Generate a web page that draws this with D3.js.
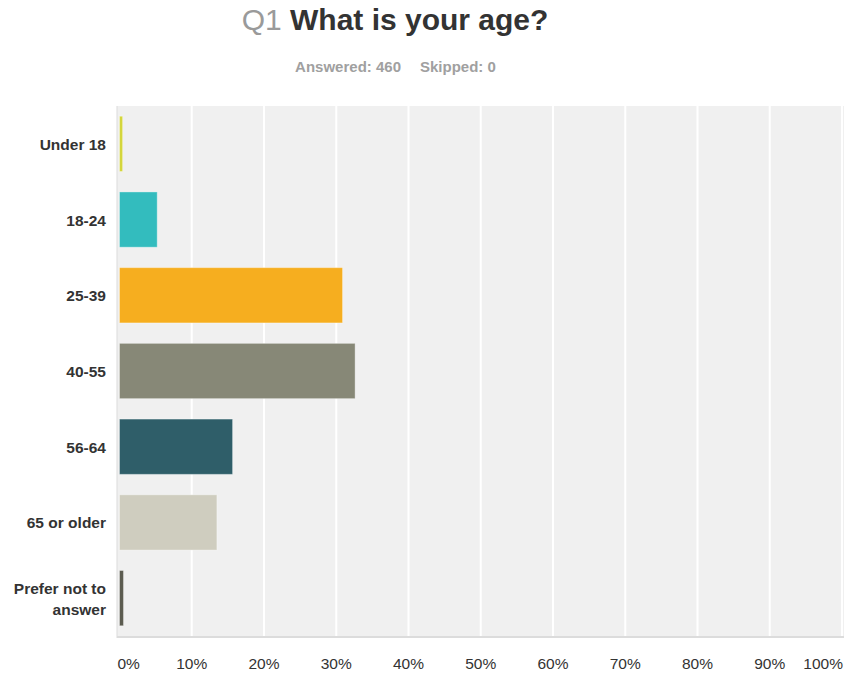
<!DOCTYPE html>
<html>
<head>
<meta charset="utf-8">
<script src="https://cdn.jsdelivr.net/npm/d3@7"></script>
<style>
  html, body { margin: 0; padding: 0; background: #fff; }
  svg { display: block; font-family: "Liberation Sans", Arial, Helvetica, sans-serif; }
</style>
</head>
<body>
<svg id="chart" width="844" height="675"></svg>
<script>
// Survey question Q1: age distribution of respondents (percent of answers)
const categories = ["Under 18", "18-24", "25-39", "40-55", "56-64", "65 or older", "Prefer not to answer"];
const percents   = [0.43, 5.22, 30.87, 32.61, 15.65, 13.48, 0.55];
const barColors  = ["#d4d63c", "#33bcbe", "#f6ae1f", "#878877", "#2f5e69", "#cfcdbf", "#5c5c50"];
const tickValues = [0, 10, 20, 30, 40, 50, 60, 70, 80, 90, 100];
const tickLabels = ["0%", "10%", "20%", "30%", "40%", "50%", "60%", "70%", "80%", "90%", "100%"];

const svg = d3.select("#chart");

const plot = { left: 119.5, right: 842, top: 106, bottom: 636 };

const x = d3.scaleLinear().domain([0, 100]).range([plot.left, plot.right]);
const y = d3.scaleBand().domain(categories).range([plot.top, plot.bottom]).paddingInner(0.27).paddingOuter(0.135);

// Title
const title = svg.append("text")
  .attr("x", 395).attr("y", 30)
  .attr("text-anchor", "middle")
  .style("font-size", "30px");
title.append("tspan").attr("fill", "#9a9a9a").text("Q1 ");
title.append("tspan").attr("fill", "#333333").attr("font-weight", "bold").text("What is your age?");

// Response counts
const sub = svg.append("g")
  .attr("fill", "#a0a0a0")
  .attr("font-weight", "bold")
  .style("font-size", "15px");
sub.append("text").attr("x", 401).attr("y", 72).attr("text-anchor", "end").text("Answered: 460");
sub.append("text").attr("x", 420).attr("y", 72).attr("text-anchor", "start").text("Skipped: 0");

// Plot background with a soft edge on the left and bottom
svg.append("rect")
  .attr("x", plot.left - 3).attr("y", plot.top)
  .attr("width", plot.right - plot.left + 5).attr("height", plot.bottom - plot.top + 2)
  .attr("fill", "#dcdcdc");
svg.append("rect")
  .attr("x", plot.left - 2).attr("y", plot.top)
  .attr("width", plot.right - plot.left + 4).attr("height", plot.bottom - plot.top)
  .attr("fill", "#f0f0f0");

// Vertical gridlines
svg.append("g")
  .selectAll("line")
  .data(tickValues.slice(1))
  .join("line")
  .attr("x1", d => x(d)).attr("x2", d => x(d))
  .attr("y1", plot.top).attr("y2", plot.bottom)
  .attr("stroke", "#ffffff")
  .attr("stroke-width", 2);

// Bars
svg.append("g")
  .selectAll("rect")
  .data(categories)
  .join("rect")
  .attr("x", x(0))
  .attr("y", d => y(d))
  .attr("width", (d, i) => Math.max(0, x(percents[i]) - x(0)))
  .attr("height", y.bandwidth())
  .attr("fill", (d, i) => barColors[i])
  .attr("stroke", "rgba(255,255,255,0.35)")
  .attr("stroke-width", 1);

// Category labels
const yLabels = svg.append("g")
  .selectAll("text")
  .data(categories)
  .join("text")
  .attr("text-anchor", "end")
  .attr("fill", "#333333")
  .attr("font-weight", "bold")
  .style("font-size", "15.5px");

yLabels.each(function (d) {
  const el = d3.select(this);
  const cy = y(d) + y.bandwidth() / 2;
  const lines = d === "Prefer not to answer" ? ["Prefer not to", "answer"] : [d];
  const lh = 21;
  const start = cy - (lines.length - 1) * lh / 2 + 6;
  lines.forEach((line, k) => {
    el.append("tspan").attr("x", 106).attr("y", start + k * lh).text(line);
  });
});

// X axis labels, kept inside the plot width at both ends
svg.append("g")
  .selectAll("text")
  .data(tickValues)
  .join("text")
  .attr("x", (d, i) => i === 0 ? x(d) - 2 : i === tickValues.length - 1 ? x(d) + 1 : x(d))
  .attr("y", 669)
  .attr("text-anchor", (d, i) => i === 0 ? "start" : i === tickValues.length - 1 ? "end" : "middle")
  .attr("fill", "#333333")
  .style("font-size", "15.5px")
  .text((d, i) => tickLabels[i]);
</script>
</body>
</html>
